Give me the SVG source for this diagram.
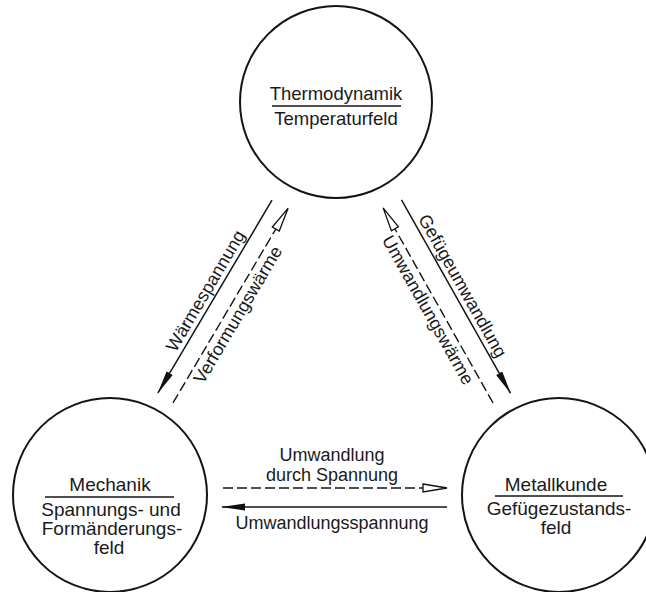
<svg xmlns="http://www.w3.org/2000/svg" width="646" height="592" viewBox="0 0 646 592">
<defs>
<marker id="filled" viewBox="0 0 24 8" markerWidth="24" markerHeight="8" refX="23" refY="4" orient="auto" markerUnits="userSpaceOnUse">
<path d="M0,0.5 L24,4 L0,7.5 Z" fill="#111"/>
</marker>
<marker id="open" viewBox="-1 -1 26 11" markerWidth="26" markerHeight="11" refX="24" refY="4.5" orient="auto" markerUnits="userSpaceOnUse">
<path d="M0,0.5 L24,4.5 L0,8.5 Z" fill="#fff" stroke="#111" stroke-width="1.3" stroke-linejoin="miter"/>
</marker>
<style>
.c{fill:none;stroke:#141414;stroke-width:2}
.u{stroke:#141414;stroke-width:1.5}
.t{font-family:"Liberation Sans",Arial,Helvetica,sans-serif;fill:#1a1a1a;text-anchor:middle}
.s{fill:none;stroke:#141414;stroke-width:1.5}
.d{fill:none;stroke:#141414;stroke-width:1.4;stroke-dasharray:10 4}
</style>
</defs>
<rect width="646" height="592" fill="#fff"/>
<g id="thermodynamik">
<circle class="c" cx="336" cy="102" r="96"/>
<text class="t" x="336" y="100" font-size="18.5">Thermodynamik</text>
<line class="u" x1="272" y1="106" x2="401" y2="106"/>
<text class="t" x="336" y="125" font-size="18.5">Temperaturfeld</text>
</g>
<g id="mechanik">
<circle class="c" cx="110" cy="495" r="97"/>
<text class="t" x="110" y="491" font-size="19">Mechanik</text>
<line class="u" x1="45" y1="497" x2="174" y2="497"/>
<text class="t" x="111" y="516" font-size="19">Spannungs- und</text>
<text class="t" x="112" y="535" font-size="19">Formänderungs-</text>
<text class="t" x="109" y="554" font-size="19">feld</text>
</g>
<g id="metallkunde">
<circle class="c" cx="559" cy="495" r="97"/>
<text class="t" x="556" y="491" font-size="19">Metallkunde</text>
<line class="u" x1="495" y1="496" x2="623" y2="496"/>
<text class="t" x="559" y="515" font-size="19">Gefügezustands-</text>
<text class="t" x="556" y="534" font-size="19">feld</text>
</g>
<g id="connectors">
<g transform="translate(215,296.5) rotate(-59.4)">
<line class="s" x1="112" y1="0" x2="-112" y2="0" marker-end="url(#filled)"/>
<line class="d" x1="-113" y1="18" x2="113" y2="18" marker-end="url(#open)"/>
<text class="t" x="0" y="-5" font-size="18">Wärmespannung</text>
<text class="t" x="-4" y="35" font-size="18">Verformungswärme</text>
</g>
<g transform="translate(456,296.5) rotate(60.6)">
<line class="s" x1="-111" y1="0" x2="111" y2="0" marker-end="url(#filled)"/>
<line class="d" x1="111" y1="20" x2="-113" y2="20" marker-end="url(#open)"/>
<text class="t" x="-6" y="-5" font-size="18">Gefügeumwandlung</text>
<text class="t" x="-2" y="37" font-size="18">Umwandlungswärme</text>
</g>
<g>
<line class="d" x1="223" y1="488" x2="447" y2="488" marker-end="url(#open)"/>
<line class="s" x1="447" y1="507" x2="222" y2="507" marker-end="url(#filled)"/>
<text class="t" x="332" y="461" font-size="18">Umwandlung</text>
<text class="t" x="332" y="481" font-size="18">durch Spannung</text>
<text class="t" x="332" y="529" font-size="18">Umwandlungsspannung</text>
</g>
</g>
</svg>
